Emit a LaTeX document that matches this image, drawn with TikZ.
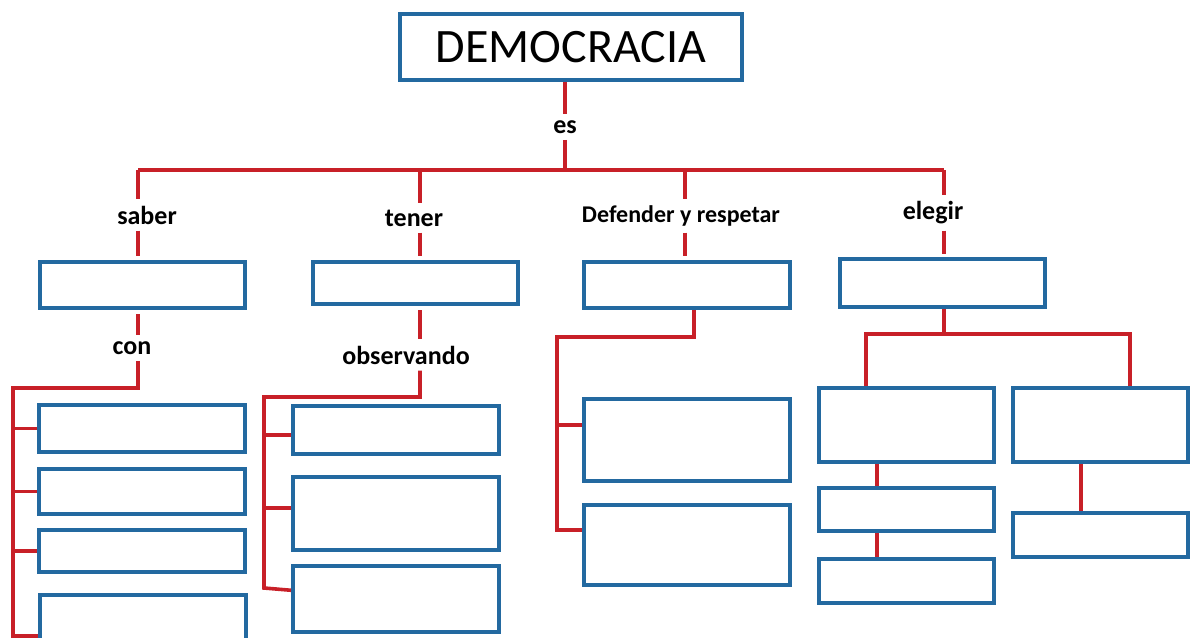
\documentclass[tikz,border=0pt]{standalone}
\usepackage{fontspec}
\setmainfont{Carlito}
\usepackage{tikz}
\usetikzlibrary{positioning}
\definecolor{boxblue}{RGB}{35,105,160}
\definecolor{linkred}{RGB}{200,32,40}
\tikzset{
    title/.style={rectangle, draw=boxblue, fill=white, line width=2pt, minimum width=171pt, minimum height=33pt, font=\fontsize{24}{24}\selectfont},
    box/.style 2 args={rectangle, draw=boxblue, fill=white, line width=2pt, inner sep=0pt, minimum width=#1, minimum height=#2},
    verb/.style={font=\bfseries\fontsize{13}{13}\selectfont, inner sep=3pt},
    link/.style={draw=linkred, line width=1.8pt},
}
\begin{document}
\begin{tikzpicture}[x=0.5pt, y=-0.5pt]
        \clip (0,0) rectangle (1192,637);
        \fill[white] (0,0) rectangle (1192,637);
        \node [title] (demo) at (571,47) {DEMOCRACIA};
        \node [verb] (es) at (565,127) {es};
        \node [verb] (saber) at (147,215) {saber};
        \node [verb] (tener) at (414,218) {tener};
        \node [verb, font=\bfseries\fontsize{12}{12}\selectfont] (defres) at (681,216) {Defender y respetar};
        \node [verb] (elegir) at (933,213) {elegir};
        \node [box={102.5pt}{23pt}] (bsaber) at (142.5,285) {};
        \node [box={102.5pt}{21pt}] (btener) at (415.5,283) {};
        \node [box={103pt}{23pt}] (bdef) at (687,285) {};
        \node [box={102.5pt}{24pt}] (beleg) at (942.5,283) {};
        \node [verb] (con) at (132,348) {con};
        \node [verb] (obs) at (406,355) {observando};
        \node [box={103pt}{23.5pt}] (s1) at (142,428.5) {};
        \node [box={103pt}{22.5pt}] (s2) at (142,491.5) {};
        \node [box={103pt}{21pt}] (s3) at (142,551) {};
        \node [box={103pt}{27pt}] (s4) at (143,622) {};
        \node [box={103pt}{24pt}] (t1) at (396,430) {};
        \node [box={103pt}{36.5pt}] (t2) at (396,513.5) {};
        \node [box={103pt}{33pt}] (t3) at (396,599) {};
        \node [box={103pt}{41pt}] (d1) at (687,440) {};
        \node [box={103pt}{40pt}] (d2) at (687,545) {};
        \node [box={87.5pt}{37pt}] (e1) at (906.5,425) {};
        \node [box={87.5pt}{37pt}] (e2) at (1100.5,425) {};
        \node [box={87.5pt}{21.5pt}] (e3) at (906.5,509.5) {};
        \node [box={87.5pt}{22pt}] (e4) at (906.5,581) {};
        \node [box={87.5pt}{22pt}] (e5) at (1100.5,535) {};
        \coordinate (j1) at (138,170);
        \coordinate (j2) at (420,170);
        \coordinate (j3) at (685,170);
        \coordinate (j4) at (944,170);
        \coordinate (c1) at (138,388);
        \coordinate (c0) at (13,388);
        \coordinate (cb) at (13,650);
        \coordinate (o1) at (420,397);
        \coordinate (o0) at (264,397);
        \coordinate (o2) at (264,588);
        \coordinate (f1) at (694,337);
        \coordinate (f0) at (557,337);
        \coordinate (d1in) at ([yshift=7.5pt]d1.west);
        \coordinate (d2in) at ([yshift=7.5pt]d2.west);
        \coordinate (g1) at (944,334);
        \coordinate (gl) at (866,334);
        \coordinate (gr) at (1130,334);
        \coordinate (ga) at (877,475);
        \coordinate (gb) at (1081,490);
        \draw[link] (demo.south -| es) -- (es);
        \draw[link] (es) -- (es |- j1);
        \draw[link] (j1) -- (j4);
        \draw[link] (j1) -- (j1 |- saber.north);
        \draw[link] (j2) -- (j2 |- tener.north);
        \draw[link] (j3) -- (j3 |- defres.north);
        \draw[link] (j4) -- (j4 |- elegir.north);
        \draw[link, shorten >=2pt] (j1 |- saber.south) -- (j1 |- bsaber.north);
        \draw[link, shorten >=2pt] (j2 |- tener.south) -- (j2 |- btener.north);
        \draw[link, shorten >=2pt] (j3 |- defres.south) -- (j3 |- bdef.north);
        \draw[link, shorten >=1.5pt] (j4 |- elegir.south) -- (j4 |- beleg.north);
        \draw[link, shorten <=2pt] (j1 |- bsaber.south) -- (j1 |- con.north);
        \draw[link] (j1 |- con.south) -- (c1) -- (c0) -- (cb);
        \draw[link] (c0 |- s1) -- (s1);
        \draw[link] (c0 |- s2) -- (s2);
        \draw[link] (c0 |- s3) -- (s3);
        \draw[link] (c0 |- 0,636) -- (s4.west |- 0,636);
        \draw[link, shorten <=2pt] (j2 |- btener.south) -- (j2 |- obs.north);
        \draw[link] (j2 |- obs.south) -- (o1) -- (o0) -- (o2) -- (t3);
        \draw[link] (o0 |- 0,435) -- (t1.west |- 0,435);
        \draw[link] (o0 |- 0,508) -- (t2.west |- 0,508);
        \draw[link] (bdef.south -| f1) -- (f1) -- (f0) -- (f0 |- d2in) -- (d2in);
        \draw[link] (f0 |- d1in) -- (d1in);
        \draw[link] (beleg.south -| g1) -- (g1);
        \draw[link] (gl |- e1.north) -- (gl) -- (gr) -- (gr |- e2.north);
        \draw[link] (e1.south -| ga) -- (e3.north -| ga);
        \draw[link] (e3.south -| ga) -- (e4.north -| ga);
        \draw[link] (e2.south -| gb) -- (e5.north -| gb);
    \end{tikzpicture}
\end{document}
